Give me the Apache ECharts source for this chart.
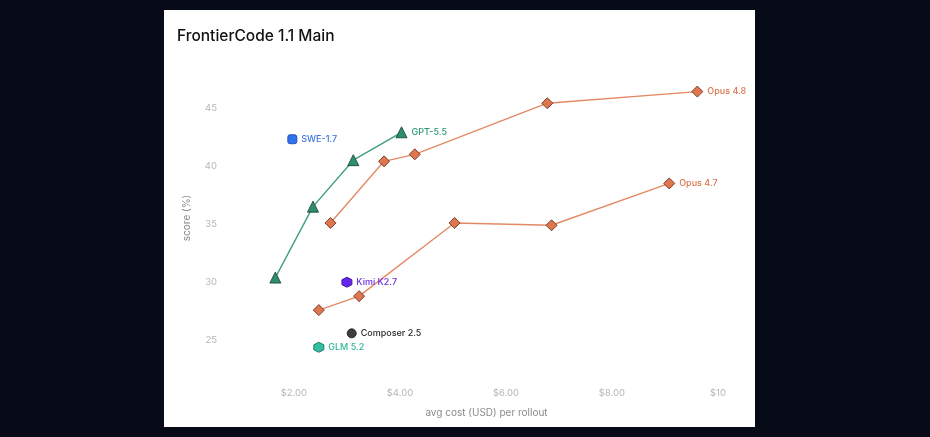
<!DOCTYPE html>
<html>
<head>
<meta charset="utf-8">
<script src="https://cdn.jsdelivr.net/npm/echarts@6/dist/echarts.min.js"></script>
<style>
  html, body { margin: 0; padding: 0; background: #060b17; }
  #panel { position: absolute; left: 164px; top: 10px; width: 591px; height: 417px; background: #fff; }
  #chart { width: 591px; height: 417px; }
</style>
</head>
<body>
<div id="panel"><div id="chart"></div></div>
<script>
// avg cost (USD) per rollout, score (%)
const gptCost = [1.65, 2.36, 3.12, 4.03];
const gptScore = [30.4, 36.5, 40.5, 42.9];
const opus48Cost = [2.69, 3.70, 4.28, 6.78, 9.61];
const opus48Score = [35.1, 40.4, 41.0, 45.4, 46.4];
const opus47Cost = [2.47, 3.23, 5.03, 6.86, 9.08];
const opus47Score = [27.6, 28.8, 35.1, 34.9, 38.5];
const singleNames = ['SWE-1.7', 'Kimi K2.7', 'Composer 2.5', 'GLM 5.2'];
const singleCost = [1.97, 3.00, 3.09, 2.47];
const singleScore = [42.3, 30.0, 25.6, 24.4];
const xTicks = [2, 4, 6, 8, 10];
const yTicks = [25, 30, 35, 40, 45];

const FONT = 'Inter, "Noto Sans", sans-serif';
const hexagon = 'path://M5,0 L9.33,2.5 L9.33,7.5 L5,10 L0.67,7.5 L0.67,2.5 Z';

function points(xs, ys, name, color) {
  return xs.map(function (x, i) {
    let item = { value: [x, ys[i]] };
    if (i === xs.length - 1) {
      item.label = {
        show: true, position: 'right', distance: 4, formatter: name,
        color: color, fontSize: 9, fontWeight: 500, fontFamily: FONT
      };
    }
    return item;
  });
}

function lineSeries(name, xs, ys, lineColor, fill, border, symbol, size, labelColor) {
  return {
    name: name, type: 'line', data: points(xs, ys, name, labelColor),
    symbol: symbol, symbolSize: size,
    lineStyle: { color: lineColor, width: 1.4 },
    itemStyle: { color: fill, borderColor: border, borderWidth: 0.9, opacity: 1 },
    z: 3
  };
}

const singleStyle = [
  { symbol: 'roundRect', size: 9, fill: '#2f72ee', border: '#1d4aa8', label: '#3a74dc' },
  { symbol: hexagon, size: 10, fill: '#6426ee', border: '#3a168f', label: '#6a2fe0' },
  { symbol: 'circle', size: 9, fill: '#3e3e3e', border: '#1e1e1e', label: '#2a2a2a' },
  { symbol: hexagon, size: 10, fill: '#33bfa2', border: '#1b6e5e', label: '#2fb797' }
];

const singles = singleNames.map(function (name, i) {
  const s = singleStyle[i];
  return {
    name: name, type: 'scatter', symbol: s.symbol, symbolSize: s.size,
    itemStyle: { color: s.fill, borderColor: s.border, borderWidth: 0.9, opacity: 1 },
    label: { show: true, position: 'right', distance: 4, formatter: name,
      color: s.label, fontSize: 9, fontWeight: 500, fontFamily: FONT },
    data: [[singleCost[i], singleScore[i]]],
    z: 4
  };
});

const chart = echarts.init(document.getElementById('chart'));
chart.setOption({
  animation: false,
  title: {
    text: 'FrontierCode 1.1 Main', left: 8, top: 13,
    textStyle: { fontFamily: FONT, fontSize: 15.5, fontWeight: 500, color: '#111' }
  },
  grid: { left: 61, right: 37, top: 63, bottom: 46 },
  xAxis: {
    type: 'value', min: 0.7, max: 10,
    name: 'avg cost (USD) per rollout', nameLocation: 'middle', nameGap: 27,
    nameTextStyle: { color: '#8a8a8a', fontSize: 10, fontFamily: FONT, padding: [0, 0, 0, 30] },
    axisLine: { show: false }, axisTick: { show: false }, splitLine: { show: false },
    axisLabel: {
      customValues: xTicks, color: '#b5b5b5', fontSize: 9.5, fontFamily: FONT, margin: 7,
      formatter: function (v) { return v >= 10 ? '$' + v : '$' + v.toFixed(2); }
    }
  },
  yAxis: {
    type: 'value', min: 21.5, max: 48,
    name: 'score (%)', nameLocation: 'middle', nameGap: 33,
    nameTextStyle: { color: '#8a8a8a', fontSize: 10, fontFamily: FONT, padding: [0, 0, 0, 18] },
    axisLine: { show: false }, axisTick: { show: false }, splitLine: { show: false },
    axisLabel: { customValues: yTicks, color: '#b5b5b5', fontSize: 9.5, fontFamily: FONT, margin: 8 }
  },
  series: [
    lineSeries('GPT-5.5', gptCost, gptScore, '#3f9f7f', '#2f8f6d', '#1c4a3a', 'triangle', 11, '#2a9a72'),
    lineSeries('Opus 4.8', opus48Cost, opus48Score, '#e38a65', '#e0764d', '#6a3321', 'diamond', 11, '#d9764d'),
    lineSeries('Opus 4.7', opus47Cost, opus47Score, '#e38a65', '#e0764d', '#6a3321', 'diamond', 11, '#d9764d')
  ].concat(singles)
});
</script>
</body>
</html>
